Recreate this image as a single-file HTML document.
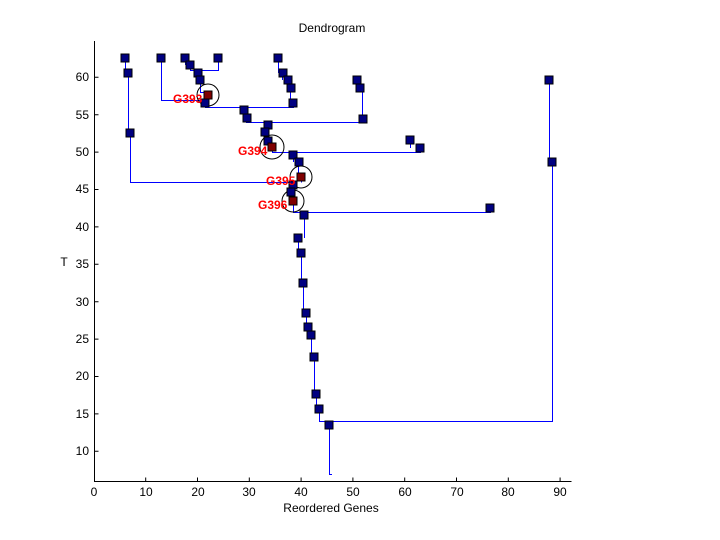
<!DOCTYPE html>
<html><head><meta charset="utf-8"><style>
body{margin:0;background:#fff}
svg{display:block;font-family:"Liberation Sans",sans-serif}
</style></head><body>
<svg width="720" height="540" viewBox="0 0 720 540">
<rect width="720" height="540" fill="#fff"/>
<text x="332" y="32" font-size="12" text-anchor="middle">Dendrogram</text>
<text x="331" y="512" font-size="12" text-anchor="middle">Reordered Genes</text>
<text x="64" y="266" font-size="12" text-anchor="middle">T</text>
<g stroke="#000" stroke-width="1" fill="none">
<path d="M94.5 41V481.5H571.5"/>
<path d="M94.5 77.3h4M94.5 114.7h4M94.5 152.1h4M94.5 189.5h4M94.5 226.9h4M94.5 264.3h4M94.5 301.7h4M94.5 339.1h4M94.5 376.5h4M94.5 413.9h4M94.5 451.3h4"/>
<path d="M145.7 481.5v-4M197.5 481.5v-4M249.3 481.5v-4M301.1 481.5v-4M352.9 481.5v-4M404.7 481.5v-4M456.5 481.5v-4M508.3 481.5v-4M560.1 481.5v-4"/>
</g>
<g font-size="12" text-anchor="end">
<text x="89" y="81">60</text><text x="89" y="119">55</text><text x="89" y="156">50</text><text x="89" y="193">45</text><text x="89" y="231">40</text><text x="89" y="268">35</text><text x="89" y="306">30</text><text x="89" y="343">25</text><text x="89" y="380">20</text><text x="89" y="418">15</text><text x="89" y="455">10</text>
</g>
<g font-size="12" text-anchor="middle">
<text x="94" y="496">0</text><text x="146" y="496">10</text><text x="198" y="496">20</text><text x="249" y="496">30</text><text x="301" y="496">40</text><text x="353" y="496">50</text><text x="405" y="496">60</text><text x="457" y="496">70</text><text x="508" y="496">80</text><text x="560" y="496">90</text>
</g>
<g stroke="#0000ff" stroke-width="1" fill="none">
<path d="M125.5 58V73M128.5 73V133M130.5 133V182.5H293"/>
<path d="M161.5 58V100.5H206"/>
<path d="M185.5 58V65M190.5 65V70.5H218.5V58"/>
<path d="M197.5 73V80M200.5 80V92.5H208.5V103"/>
<path d="M205.5 103V107.5H293.5V103"/>
<path d="M278.5 58V73M282.5 73V80M288.5 80V88M290.5 88V103"/>
<path d="M244.5 110V118M246.5 118V122.5H362.5V88M357.5 80V88"/>
<path d="M268.5 125V132M264.5 132V141M268.5 141V147M272.5 147V152.5H420.5V148M410.5 140V148"/>
<path d="M293.5 155V162M298.5 162V177M301.5 177V182.5"/>
<path d="M293.5 185V192M290.5 192V200M293.5 200V212.5H490.5V208"/>
<path d="M304.5 212V238M298.5 238V253M301.5 253V283M303.5 283V313M306.5 313V327M308.5 327V335M311.5 335V357M314.5 357V394M316.5 394V409M319.5 409V421.5H552.5V162M549.5 80V162M329.5 421V474.5H332"/>
</g>
<g fill="none" stroke="#000" stroke-width="1">
<circle cx="208" cy="95" r="11"/><circle cx="272" cy="147" r="12"/><circle cx="301" cy="177" r="11"/><circle cx="293" cy="201" r="11"/>
</g>
<g fill="#000080" stroke="#000" stroke-width="1">
<rect x="121" y="54" width="8" height="8"/><rect x="124" y="69" width="8" height="8"/><rect x="126" y="129" width="8" height="8"/>
<rect x="157" y="54" width="8" height="8"/><rect x="181" y="54" width="8" height="8"/><rect x="214" y="54" width="8" height="8"/>
<rect x="186" y="61" width="8" height="8"/><rect x="194" y="69" width="8" height="8"/><rect x="196" y="76" width="8" height="8"/>
<rect x="201" y="99" width="8" height="8"/><rect x="274" y="54" width="8" height="8"/><rect x="279" y="69" width="8" height="8"/>
<rect x="284" y="76" width="8" height="8"/><rect x="287" y="84" width="8" height="8"/><rect x="289" y="99" width="8" height="8"/>
<rect x="240" y="106" width="8" height="8"/><rect x="243" y="114" width="8" height="8"/><rect x="264" y="121" width="8" height="8"/>
<rect x="261" y="128" width="8" height="8"/><rect x="264" y="137" width="8" height="8"/>
<rect x="289" y="151" width="8" height="8"/><rect x="295" y="158" width="8" height="8"/><rect x="289" y="181" width="8" height="8"/>
<rect x="287" y="188" width="8" height="8"/><rect x="300" y="211" width="8" height="8"/>
<rect x="353" y="76" width="8" height="8"/><rect x="356" y="84" width="8" height="8"/><rect x="359" y="115" width="8" height="8"/>
<rect x="406" y="136" width="8" height="8"/><rect x="416" y="144" width="8" height="8"/><rect x="486" y="204" width="8" height="8"/>
<rect x="545" y="76" width="8" height="8"/><rect x="548" y="158" width="8" height="8"/>
<rect x="294" y="234" width="8" height="8"/><rect x="297" y="249" width="8" height="8"/><rect x="299" y="279" width="8" height="8"/>
<rect x="302" y="309" width="8" height="8"/><rect x="304" y="323" width="8" height="8"/><rect x="307" y="331" width="8" height="8"/>
<rect x="310" y="353" width="8" height="8"/><rect x="312" y="390" width="8" height="8"/><rect x="315" y="405" width="8" height="8"/>
<rect x="325" y="421" width="8" height="8"/>
</g>
<g fill="#800000" stroke="#000" stroke-width="1">
<rect x="204" y="91" width="8" height="8"/><rect x="268" y="143" width="8" height="8"/><rect x="297" y="173" width="8" height="8"/><rect x="289" y="197" width="8" height="8"/>
</g>
<g fill="#ff0000" font-size="12" font-weight="bold">
<text x="173" y="103">G393</text><text x="238" y="155">G394</text><text x="266" y="185">G395</text><text x="258" y="209">G396</text>
</g>
</svg>
</body></html>
